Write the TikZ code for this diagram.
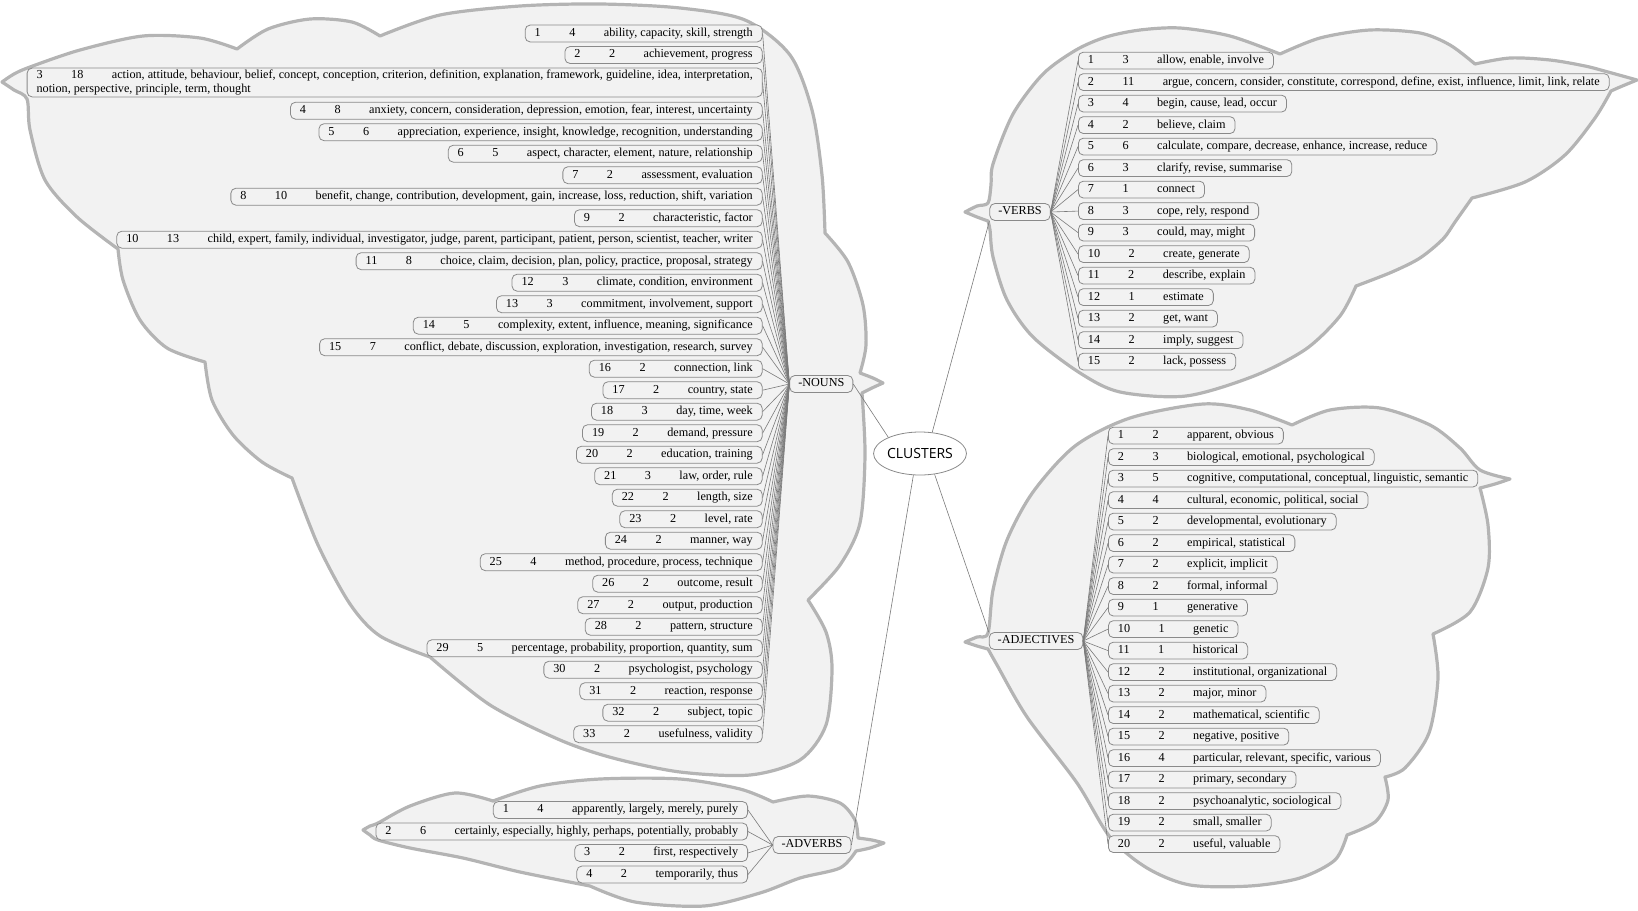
\documentclass[tikz,border=0pt]{standalone}
\usepackage{fontspec}
\setmainfont{Liberation Serif}
\newfontfamily\clusterfont{Open Sans}
\usetikzlibrary{shapes.geometric}
\definecolor{cloudfill}{HTML}{F2F2F2}
\definecolor{cloudline}{HTML}{B4B4B4}
\definecolor{boxline}{HTML}{8A8A8A}
\definecolor{linkline}{HTML}{7A7A7A}
\tikzset{
  cloudshape/.style={fill=cloudfill, draw=cloudline, line width=3.2pt, line join=round},
  item/.style={draw=boxline, line width=0.8pt, rounded corners=5pt, fill=cloudfill,
    inner xsep=9.5pt, inner ysep=2.9pt, text height=8.5pt, text depth=2.6pt,
    font=\fontsize{12.2}{13.6}\selectfont},
  nitem/.style={item, anchor=east},
  witem/.style={item, anchor=west},
  cat/.style={item, inner xsep=8.5pt},
  link/.style={draw=linkline, line width=0.6pt},
  root/.style={ellipse, draw=boxline, line width=0.8pt, fill=white, inner sep=0pt,
    minimum width=88pt, minimum height=43pt, font=\clusterfont\fontsize{14}{16}\selectfont},
}
\newcommand{\rowtext}[3]{#1\hspace{28.5pt}#2\hspace{28.5pt}#3}
\begin{document}
\begin{tikzpicture}[x=1pt,y=-1pt]
\useasboundingbox (0,0) rectangle (1638,910);

% ---------------- clouds ----------------
% nouns
\path[cloudshape] (2,82)
 -- plot[smooth] coordinates {(2,82) (14,74) (30,67) (80,50) (143,36) (200,38) (237,49)}
 -- plot[smooth] coordinates {(237,49) (268,29) (310,19) (352,22) (380,36)}
 -- plot[smooth] coordinates {(380,36) (440,15) (520,6) (600,4) (680,8) (745,20) (790,55) (812,110) (822,175) (825,233)}
 -- plot[smooth] coordinates {(825,233) (848,262) (863,305) (866,345) (860,373)}
 -- plot[smooth] coordinates {(860,373) (873,378) (883,383)}
 -- plot[smooth] coordinates {(883,383) (872,388) (862,393)}
 -- plot[smooth] coordinates {(862,393) (865,455) (860,523) (840,565) (808,600)}
 -- plot[smooth] coordinates {(808,600) (826,632) (832,668) (826,725) (800,760) (750,775) (680,772) (613,758) (560,740) (490,705) (430,657)}
 -- plot[smooth] coordinates {(430,657) (380,636) (350,604) (318,545) (292,478)}
 -- plot[smooth] coordinates {(292,478) (262,462) (233,435) (212,400) (205,362)}
 -- plot[smooth] coordinates {(205,362) (167,348) (140,320) (123,280) (118,249)}
 -- plot[smooth] coordinates {(118,249) (77,217) (45,180) (30,130) (27,99) (14,90) (2,82)}
 -- cycle;
% verbs
\path[cloudshape] (965,212)
 -- plot[smooth] coordinates {(965,212) (977,206) (988,203) (991,185) (993,164) (1013,114) (1043,74) (1076,50) (1106,37) (1140,30) (1180,28) (1230,36) (1280,54)}
 -- plot[smooth] coordinates {(1280,54) (1320,38) (1370,30) (1420,33) (1450,45) (1475,64)}
 -- plot[smooth] coordinates {(1475,64) (1510,58) (1550,60) (1585,66) (1608,72) (1637,80)}
 -- plot[smooth] coordinates {(1637,80) (1620,87) (1611,91)}
 -- plot[smooth] coordinates {(1611,91) (1595,118) (1565,155) (1525,182) (1472,198)}
 -- plot[smooth] coordinates {(1472,198) (1455,222) (1443,239) (1420,258) (1392,272) (1356,286)}
 -- plot[smooth] coordinates {(1356,286) (1340,316) (1306,349) (1254,376) (1186,396) (1120,392) (1080,373) (1033,337) (1007,300) (993,257) (990,230) (988,221)}
 -- plot[smooth] coordinates {(988,221) (977,217) (965,212)}
 -- cycle;
% adjectives
\path[cloudshape] (965,642)
 -- plot[smooth] coordinates {(965,642) (977,637) (988,633) (993,590) (1007,540) (1033,492) (1075,446) (1130,418) (1203,404) (1250,410) (1292,425)}
 -- plot[smooth] coordinates {(1292,425) (1330,410) (1380,408) (1430,425) (1460,448) (1480,470) (1510,479)}
 -- plot[smooth] coordinates {(1510,479) (1495,484) (1480,488)}
 -- plot[smooth] coordinates {(1480,488) (1488,525) (1488,568) (1470,612) (1433,634)}
 -- plot[smooth] coordinates {(1433,634) (1438,678) (1429,733) (1405,768) (1385,777)}
 -- plot[smooth] coordinates {(1385,777) (1388,800) (1375,822) (1347,835)}
 -- plot[smooth] coordinates {(1347,835) (1335,860) (1300,878) (1250,886) (1190,885) (1147,868) (1110,837) (1077,783) (1027,717) (997,665) (988,649)}
 -- plot[smooth] coordinates {(988,649) (977,646) (965,642)}
 -- cycle;
% adverbs
\path[cloudshape] (363,830)
 -- plot[smooth] coordinates {(363,830) (370,826) (378,823) (410,806) (455,793) (493,801)}
 -- plot[smooth] coordinates {(493,801) (540,786) (600,779) (680,779) (740,789) (773,802)}
 -- plot[smooth] coordinates {(773,802) (808,796) (840,803) (855,820) (858,838)}
 -- plot[smooth] coordinates {(858,838) (872,840) (884,843)}
 -- plot[smooth] coordinates {(884,843) (870,848) (856,851)}
 -- plot[smooth] coordinates {(856,851) (840,868) (800,878) (760,893) (704,906) (635,902) (590,886)}
 -- plot[smooth] coordinates {(590,886) (520,872) (463,858) (410,848) (378,840) (370,835) (363,830)}
 -- cycle;

% ---------------- central and category nodes ----------------
\node[root] (clusters) at (920,453.5) {CLUSTERS};
\node[cat] (nouns) at (821.3,384) {-NOUNS};
\node[cat] (verbs) at (1020,212) {-VERBS};
\node[cat] (adj) at (1036,641) {-ADJECTIVES};
\node[cat] (adv) at (812,845) {-ADVERBS};

% ---------------- nouns ----------------
\node[nitem] (n1) at (762.6,33.5) {\rowtext{1}{4}{ability, capacity, skill, strength}};
\node[nitem] (n2) at (762.6,55.0) {\rowtext{2}{2}{achievement, progress}};
\node[nitem, align=left, text height={}, text depth={}, inner ysep=2pt] (n3) at (762.6,82.5)
  {\rowtext{3}{18}{action, attitude, behaviour, belief, concept, conception, criterion, definition, explanation, framework, guideline, idea, interpretation,}\\notion, perspective, principle, term, thought};
\node[nitem] (n4) at (762.6,110.7) {\rowtext{4}{8}{anxiety, concern, consideration, depression, emotion, fear, interest, uncertainty}};
\node[nitem] (n5) at (762.6,132.2) {\rowtext{5}{6}{appreciation, experience, insight, knowledge, recognition, understanding}};
\node[nitem] (n6) at (762.6,153.7) {\rowtext{6}{5}{aspect, character, element, nature, relationship}};
\node[nitem] (n7) at (762.6,175.2) {\rowtext{7}{2}{assessment, evaluation}};
\node[nitem] (n8) at (762.6,196.7) {\rowtext{8}{10}{benefit, change, contribution, development, gain, increase, loss, reduction, shift, variation}};
\node[nitem] (n9) at (762.6,218.2) {\rowtext{9}{2}{characteristic, factor}};
\node[nitem] (n10) at (762.6,239.7) {\rowtext{10}{13}{child, expert, family, individual, investigator, judge, parent, participant, patient, person, scientist, teacher, writer}};
\node[nitem] (n11) at (762.6,261.2) {\rowtext{11}{8}{choice, claim, decision, plan, policy, practice, proposal, strategy}};
\node[nitem] (n12) at (762.6,282.7) {\rowtext{12}{3}{climate, condition, environment}};
\node[nitem] (n13) at (762.6,304.2) {\rowtext{13}{3}{commitment, involvement, support}};
\node[nitem] (n14) at (762.6,325.7) {\rowtext{14}{5}{complexity, extent, influence, meaning, significance}};
\node[nitem] (n15) at (762.6,347.2) {\rowtext{15}{7}{conflict, debate, discussion, exploration, investigation, research, survey}};
\node[nitem] (n16) at (762.6,368.7) {\rowtext{16}{2}{connection, link}};
\node[nitem] (n17) at (762.6,390.2) {\rowtext{17}{2}{country, state}};
\node[nitem] (n18) at (762.6,411.7) {\rowtext{18}{3}{day, time, week}};
\node[nitem] (n19) at (762.6,433.2) {\rowtext{19}{2}{demand, pressure}};
\node[nitem] (n20) at (762.6,454.7) {\rowtext{20}{2}{education, training}};
\node[nitem] (n21) at (762.6,476.2) {\rowtext{21}{3}{law, order, rule}};
\node[nitem] (n22) at (762.6,497.7) {\rowtext{22}{2}{length, size}};
\node[nitem] (n23) at (762.6,519.2) {\rowtext{23}{2}{level, rate}};
\node[nitem] (n24) at (762.6,540.7) {\rowtext{24}{2}{manner, way}};
\node[nitem] (n25) at (762.6,562.2) {\rowtext{25}{4}{method, procedure, process, technique}};
\node[nitem] (n26) at (762.6,583.7) {\rowtext{26}{2}{outcome, result}};
\node[nitem] (n27) at (762.6,605.2) {\rowtext{27}{2}{output, production}};
\node[nitem] (n28) at (762.6,626.7) {\rowtext{28}{2}{pattern, structure}};
\node[nitem] (n29) at (762.6,648.2) {\rowtext{29}{5}{percentage, probability, proportion, quantity, sum}};
\node[nitem] (n30) at (762.6,669.7) {\rowtext{30}{2}{psychologist, psychology}};
\node[nitem] (n31) at (762.6,691.2) {\rowtext{31}{2}{reaction, response}};
\node[nitem] (n32) at (762.6,712.7) {\rowtext{32}{2}{subject, topic}};
\node[nitem] (n33) at (762.6,734.2) {\rowtext{33}{2}{usefulness, validity}};

% ---------------- verbs ----------------
\node[witem] (v1) at (1078,60.6) {\rowtext{1}{3}{allow, enable, involve}};
\node[witem] (v2) at (1078,82.1) {\rowtext{2}{11}{argue, concern, consider, constitute, correspond, define, exist, influence, limit, link, relate}};
\node[witem] (v3) at (1078,103.6) {\rowtext{3}{4}{begin, cause, lead, occur}};
\node[witem] (v4) at (1078,125.1) {\rowtext{4}{2}{believe, claim}};
\node[witem] (v5) at (1078,146.6) {\rowtext{5}{6}{calculate, compare, decrease, enhance, increase, reduce}};
\node[witem] (v6) at (1078,168.1) {\rowtext{6}{3}{clarify, revise, summarise}};
\node[witem] (v7) at (1078,189.6) {\rowtext{7}{1}{connect}};
\node[witem] (v8) at (1078,211.1) {\rowtext{8}{3}{cope, rely, respond}};
\node[witem] (v9) at (1078,232.6) {\rowtext{9}{3}{could, may, might}};
\node[witem] (v10) at (1078,254.1) {\rowtext{10}{2}{create, generate}};
\node[witem] (v11) at (1078,275.6) {\rowtext{11}{2}{describe, explain}};
\node[witem] (v12) at (1078,297.1) {\rowtext{12}{1}{estimate}};
\node[witem] (v13) at (1078,318.6) {\rowtext{13}{2}{get, want}};
\node[witem] (v14) at (1078,340.1) {\rowtext{14}{2}{imply, suggest}};
\node[witem] (v15) at (1078,361.6) {\rowtext{15}{2}{lack, possess}};

% ---------------- adjectives ----------------
\node[witem] (a1) at (1108,435.6) {\rowtext{1}{2}{apparent, obvious}};
\node[witem] (a2) at (1108,457.1) {\rowtext{2}{3}{biological, emotional, psychological}};
\node[witem] (a3) at (1108,478.6) {\rowtext{3}{5}{cognitive, computational, conceptual, linguistic, semantic}};
\node[witem] (a4) at (1108,500.1) {\rowtext{4}{4}{cultural, economic, political, social}};
\node[witem] (a5) at (1108,521.6) {\rowtext{5}{2}{developmental, evolutionary}};
\node[witem] (a6) at (1108,543.1) {\rowtext{6}{2}{empirical, statistical}};
\node[witem] (a7) at (1108,564.6) {\rowtext{7}{2}{explicit, implicit}};
\node[witem] (a8) at (1108,586.1) {\rowtext{8}{2}{formal, informal}};
\node[witem] (a9) at (1108,607.6) {\rowtext{9}{1}{generative}};
\node[witem] (a10) at (1108,629.1) {\rowtext{10}{1}{genetic}};
\node[witem] (a11) at (1108,650.6) {\rowtext{11}{1}{historical}};
\node[witem] (a12) at (1108,672.1) {\rowtext{12}{2}{institutional, organizational}};
\node[witem] (a13) at (1108,693.6) {\rowtext{13}{2}{major, minor}};
\node[witem] (a14) at (1108,715.1) {\rowtext{14}{2}{mathematical, scientific}};
\node[witem] (a15) at (1108,736.6) {\rowtext{15}{2}{negative, positive}};
\node[witem] (a16) at (1108,758.1) {\rowtext{16}{4}{particular, relevant, specific, various}};
\node[witem] (a17) at (1108,779.6) {\rowtext{17}{2}{primary, secondary}};
\node[witem] (a18) at (1108,801.1) {\rowtext{18}{2}{psychoanalytic, sociological}};
\node[witem] (a19) at (1108,822.6) {\rowtext{19}{2}{small, smaller}};
\node[witem] (a20) at (1108,844.1) {\rowtext{20}{2}{useful, valuable}};

% ---------------- adverbs ----------------
\node[nitem] (d1) at (748,810) {\rowtext{1}{4}{apparently, largely, merely, purely}};
\node[nitem] (d2) at (748,831.5) {\rowtext{2}{6}{certainly, especially, highly, perhaps, potentially, probably}};
\node[nitem] (d3) at (748,853) {\rowtext{3}{2}{first, respectively}};
\node[nitem] (d4) at (748,874.5) {\rowtext{4}{2}{temporarily, thus}};

% ---------------- connectors ----------------
\foreach \k in {1,...,33} \draw[link] (nouns.west) -- (n\k.east);
\foreach \k in {1,...,15} \draw[link] (verbs.east) -- (v\k.west);
\foreach \k in {1,...,20} \draw[link] (adj.east) -- (a\k.west);
\foreach \k in {1,...,4} \draw[link] (adv.west) -- (d\k.east);
\draw[link] (nouns.east) -- (clusters.153);
\draw[link] (clusters.60) -- (verbs.south west);
\draw[link] (clusters.-55) -- (adj.north west);
\draw[link] (clusters.-107) -- (adv.east);
\end{tikzpicture}
\end{document}
